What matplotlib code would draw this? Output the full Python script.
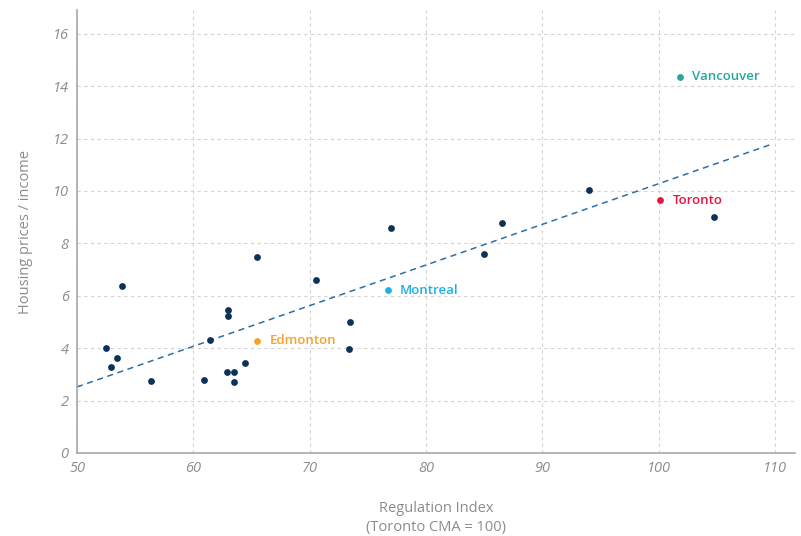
import matplotlib.pyplot as plt

# Datos
reg_index = [52.5, 52.9, 53.4, 53.9, 56.4, 60.9, 61.4, 62.9, 63.0, 63.0, 63.5, 63.5,
             64.4, 65.5, 70.5, 73.5, 73.4, 77.0, 85.0, 86.5, 94.0, 104.7]
price_income = [4.0, 3.28, 3.62, 6.38, 2.74, 2.78, 4.30, 3.09, 5.47, 5.21, 3.09, 2.72,
                3.45, 7.48, 6.62, 5.0, 3.95, 8.58, 7.6, 8.78, 10.03, 9.0]

cities = ['Vancouver', 'Toronto', 'Montreal', 'Edmonton']
city_x = [101.8, 100.1, 76.7, 65.5]
city_y = [14.35, 9.65, 6.22, 4.28]
city_colors = ['#2aa59f', '#e3173e', '#1fb1e6', '#f7a12b']

trend_x = [50, 109.6]
trend_y = [2.52, 11.77]

x_ticks = [50, 60, 70, 80, 90, 100, 110]
y_ticks = [0, 2, 4, 6, 8, 10, 12, 14, 16]

plt.rcParams['font.family'] = ['Open Sans', 'DejaVu Sans']

fig = plt.figure(figsize=(8.01, 5.36), dpi=100)
ax = fig.add_axes([0.0961, 0.1549, 0.8964, 0.8261])

ax.plot(trend_x, trend_y, linestyle=(0, (4, 3)), color='#2b6fa8', linewidth=1.1, zorder=2)
ax.scatter(reg_index, price_income, s=24, color='#0e3157', zorder=3, linewidths=0)
for name, x, y, c in zip(cities, city_x, city_y, city_colors):
    ax.scatter([x], [y], s=24, color=c, zorder=3, linewidths=0)
    ax.annotate(name, (x, y), xytext=(9, 0), textcoords='offset points',
                va='center', ha='left', color=c, fontsize=9.5, fontweight='semibold')

ax.set_xlim(50, 111.7)
ax.set_ylim(0, 16.9)
ax.set_xticks(x_ticks)
ax.set_yticks(y_ticks)
ax.tick_params(length=0, labelsize=10.5, labelcolor='#8c8c8c', pad=6)
for lab in ax.get_xticklabels() + ax.get_yticklabels():
    lab.set_fontstyle('italic')

ax.grid(True, linestyle=(0, (3, 3)), color='#d4d4d4', linewidth=0.8)
ax.set_axisbelow(True)
for s in ['top', 'right']:
    ax.spines[s].set_visible(False)
for s in ['left', 'bottom']:
    ax.spines[s].set_color('#a8a8a8')
    ax.spines[s].set_linewidth(1.2)

ax.set_xlabel('Regulation Index\n(Toronto CMA = 100)', fontsize=10.5, color='#8c8c8c',
              labelpad=18, fontweight='medium', linespacing=1.3)
ax.set_ylabel('Housing prices / income', fontsize=10.5, color='#8c8c8c',
              labelpad=14, fontweight='medium')

plt.savefig('out.png', dpi=100)
